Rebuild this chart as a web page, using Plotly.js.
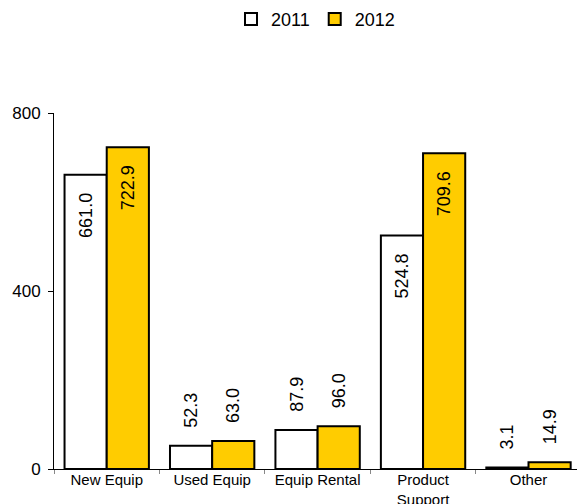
<!DOCTYPE html>
<html>
<head>
<meta charset="utf-8">
<script src="https://cdn.plot.ly/plotly-3.0.1.min.js"></script>
<style>html,body{margin:0;padding:0;background:#fff;}#chart{width:577px;height:504px;}</style>
</head>
<body>
<div id="chart"></div>
<script>
const categories = ["New Equip", "Used Equip", "Equip Rental", "Product<br>Support", "Other"];
const values2011 = [661.0, 52.3, 87.9, 524.8, 3.1];
const values2012 = [722.9, 63.0, 96.0, 709.6, 14.9];
const seriesNames = ["2011", "2012"];
const yTicks = [0, 400, 800];

const PAD = "\u00a0\u00a0\u00a0";
function pos(vals){ return vals.map(v => v > 300 ? "inside" : "outside"); }
function labels(vals){ return vals.map(v => v > 300 ? v.toFixed(1) + PAD : PAD + v.toFixed(1)); }

const font = {family: "Liberation Sans, Arial, sans-serif", color: "#000"};
function f(size){ return Object.assign({size: size}, font); }
const traces = [
  {type: "bar", name: seriesNames[0], x: categories, y: values2011,
   marker: {color: "#FFFFFF", line: {color: "#000", width: 2}},
   text: labels(values2011), textposition: pos(values2011), textangle: -90,
   insidetextanchor: "end", cliponaxis: false, constraintext: "none",
   textfont: f(18), insidetextfont: f(18), outsidetextfont: f(18)},
  {type: "bar", name: seriesNames[1], x: categories, y: values2012,
   marker: {color: "#FFCC00", line: {color: "#000", width: 2}},
   text: labels(values2012), textposition: pos(values2012), textangle: -90,
   insidetextanchor: "end", cliponaxis: false, constraintext: "none",
   textfont: f(18), insidetextfont: f(18), outsidetextfont: f(18)}
];

const layout = {
  width: 577, height: 504,
  margin: {l: 54, r: 0, t: 113, b: 35},
  paper_bgcolor: "#fff", plot_bgcolor: "#fff",
  font: f(15),
  barmode: "group", bargap: 0.2, bargroupgap: 0,
  showlegend: true,
  legend: {orientation: "h", x: 0.5, xanchor: "center", y: 1.315, yanchor: "top",
           font: f(18), itemwidth: 30, traceorder: "normal"},
  xaxis: {range: [-0.5, 4.46], showline: true, linecolor: "#000", linewidth: 1,
          ticks: "outside", ticklen: 4, tickcolor: "#888", tickson: "boundaries",
          ticklabelstandoff: -3,
          showgrid: false, zeroline: false, tickfont: f(15)},
  yaxis: {range: [0, 800], tickvals: yTicks, ticktext: yTicks.map(String),
          showline: true, linecolor: "#000", linewidth: 1, ticks: "outside", ticklen: 5,
          tickcolor: "#000", showgrid: false, zeroline: false, ticklabelstandoff: 4,
          tickfont: f(17)}
};

Plotly.newPlot("chart", traces, layout, {displayModeBar: false, staticPlot: true});
</script>
</body>
</html>
